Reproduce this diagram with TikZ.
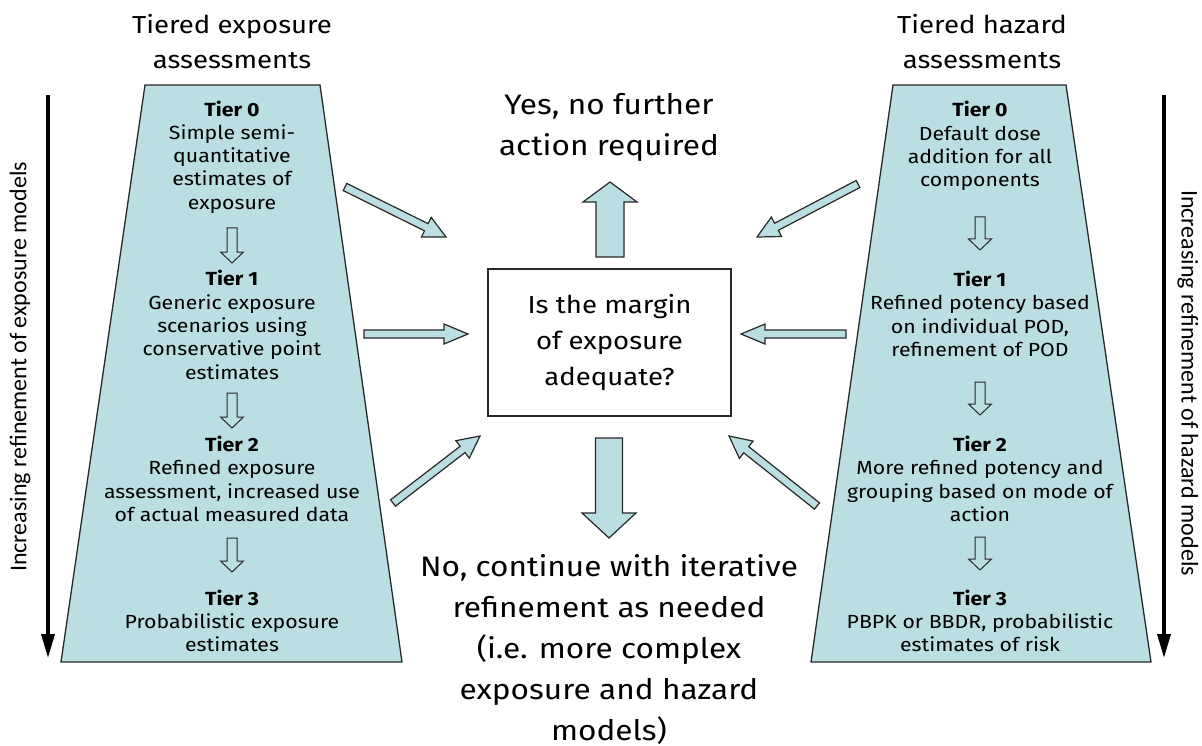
\documentclass[tikz,border=0pt]{standalone}
\usepackage{fontspec}
\setmainfont[FakeStretch=1.12]{Fira Sans}
\newfontfamily\sidefont{Carlito}
\usetikzlibrary{calc,arrows.meta,positioning}
\definecolor{tierblue}{RGB}{187,222,226}
\definecolor{edgegray}{RGB}{40,40,40}

\tikzset{
  tierpanel/.style={draw=edgegray, fill=tierblue, line width=1.3pt},
  tiertext/.style={align=center, inner sep=0pt, font=\fontsize{19}{23.3}\selectfont},
  heading/.style={align=center, inner sep=0pt, font=\fontsize{24.6}{35}\selectfont},
  outcome/.style={align=center, inner sep=0pt, font=\fontsize{28.2}{41}\selectfont},
  question/.style={draw=edgegray, line width=1.3pt, minimum width=243pt, minimum height=147pt,
    align=center, font=\fontsize{24.6}{36}\selectfont},
  blockfill/.style={draw=edgegray, fill=tierblue, line width=1.2pt, line join=miter},
  stepfill/.style={draw=edgegray, fill=tierblue, line width=1pt},
  refine/.style={line width=3.6pt, -{Triangle[length=24pt,width=13pt]}},
  sidelabel/.style={inner sep=0pt, font=\sidefont\fontsize{24}{28}\selectfont}
}

% block arrow: [style]{from}{to}{shaft half width}{head half width}{head length}
\newcommand{\blockarrow}[6][blockfill]{%
  \coordinate (ba-s) at (#2);
  \coordinate (ba-t) at (#3);
  \coordinate (ba-b) at ($(ba-t)!#6!(ba-s)$);
  \draw[#1] ($(ba-s)!#4!90:(ba-t)$) -- ($(ba-b)!#4!90:(ba-t)$) -- ($(ba-b)!#5!90:(ba-t)$)
    -- (ba-t) -- ($(ba-b)!#5!-90:(ba-t)$) -- ($(ba-b)!#4!-90:(ba-t)$)
    -- ($(ba-s)!#4!-90:(ba-t)$) -- cycle;
}

\begin{document}
\begin{tikzpicture}[x=1pt,y=-1pt]
\useasboundingbox (0,0) rectangle (1202,746);

\draw[tierpanel] (145,85) -- (320,85) -- (402,662) -- (61,662) -- cycle;
\draw[tierpanel] (893,85) -- (1066,85) -- (1151,662) -- (811,662) -- cycle;

\node[heading] (hexp) at (232,42) {Tiered exposure\\assessments};
\node[heading] (hhaz) at (982,42) {Tiered hazard\\assessments};

\node[tiertext] (e0) at (232,157) {\textbf{Tier 0}\\Simple semi-\\quantitative\\estimates of\\exposure};
\node[tiertext] (e1) at (232,325) {\textbf{Tier 1}\\Generic exposure\\scenarios using\\conservative point\\estimates};
\node[tiertext] (e2) at (232,479) {\textbf{Tier 2}\\Refined exposure\\assessment, increased use\\of actual measured data};
\node[tiertext] (e3) at (232,621) {\textbf{Tier 3}\\Probabilistic exposure\\estimates};

\node[tiertext] (h0) at (980,146) {\textbf{Tier 0}\\Default dose\\addition for all\\components};
\node[tiertext] (h1) at (980,314) {\textbf{Tier 1}\\Refined potency based\\on individual POD,\\refinement of POD};
\node[tiertext] (h2) at (980,479) {\textbf{Tier 2}\\More refined potency and\\grouping based on mode of\\action};
\node[tiertext] (h3) at (980,621) {\textbf{Tier 3}\\PBPK or BBDR, probabilistic\\estimates of risk};

\node[question] (q) at (609.5,342.5) {Is the margin\\of exposure\\adequate?};
\node[outcome] (yes) at (609,127) {Yes, no further\\action required};
\node[outcome] (no) at (609,650) {No, continue with iterative\\refinement as needed\\(i.e. more complex\\exposure and hazard\\models)};

\coordinate (e01a) at (232,228); \coordinate (e01b) at (232,263);
\coordinate (e12a) at (232,393); \coordinate (e12b) at (232,428);
\coordinate (e23a) at (232,538); \coordinate (e23b) at (232,572);
\coordinate (h01a) at (980,217); \coordinate (h01b) at (980,250);
\coordinate (h12a) at (980,382); \coordinate (h12b) at (980,415);
\coordinate (h23a) at (980,537); \coordinate (h23b) at (980,570);
\blockarrow[stepfill]{e01a}{e01b}{5pt}{11.5pt}{11pt}
\blockarrow[stepfill]{e12a}{e12b}{5pt}{11.5pt}{11pt}
\blockarrow[stepfill]{e23a}{e23b}{5pt}{11.5pt}{11pt}
\blockarrow[stepfill]{h01a}{h01b}{5pt}{11.5pt}{11pt}
\blockarrow[stepfill]{h12a}{h12b}{5pt}{11.5pt}{11pt}
\blockarrow[stepfill]{h23a}{h23b}{5pt}{11.5pt}{11pt}

% into the question
\coordinate (lt) at (345,187); \coordinate (lt-q) at (446,237);
\coordinate (lm) at (364,334); \coordinate (lm-q) at (468,334);
\coordinate (lb) at (393,503); \coordinate (lb-q) at (480,436);
\coordinate (rt) at (858,184); \coordinate (rt-q) at (757,237);
\coordinate (rm) at (846,334); \coordinate (rm-q) at (741,334);
\coordinate (rb) at (817,506); \coordinate (rb-q) at (729,436);
\blockarrow{lt}{lt-q}{4pt}{11pt}{22pt}
\blockarrow{lm}{lm-q}{4pt}{10pt}{24pt}
\blockarrow{lb}{lb-q}{4pt}{11pt}{22pt}
\blockarrow{rt}{rt-q}{4pt}{11pt}{22pt}
\blockarrow{rm}{rm-q}{4pt}{10pt}{24pt}
\blockarrow{rb}{rb-q}{4pt}{11pt}{22pt}

% outcomes
\coordinate (q-up) at (610,257); \coordinate (yes-in) at (610,182);
\coordinate (q-down) at (609,438); \coordinate (no-in) at (609,538);
\blockarrow{q-up}{yes-in}{14pt}{27pt}{20pt}
\blockarrow{q-down}{no-in}{13.5pt}{27pt}{25pt}

\coordinate (ls) at (48,95); \coordinate (le) at (48,658);
\coordinate (rs) at (1164,95); \coordinate (re) at (1164,658);
\draw[refine] (ls) -- (le);
\draw[refine] (rs) -- (re);
\node[sidelabel, rotate=90] (lexp) at (20,367) {Increasing refinement of exposure models};
\node[sidelabel, rotate=-90] (lhaz) at (1188,383) {Increasing refinement of hazard models};
\end{tikzpicture}
\end{document}
